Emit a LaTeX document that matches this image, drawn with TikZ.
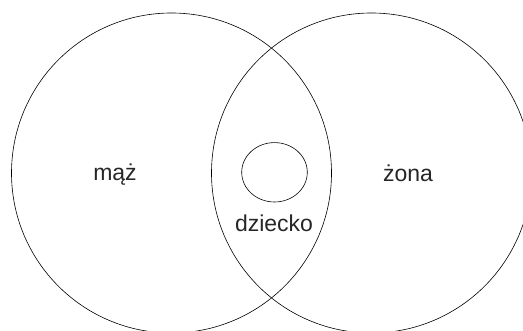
\documentclass[tikz,border=0pt]{standalone}
\usepackage{fontspec}
\setmainfont{Liberation Sans}
\begin{document}
\begin{tikzpicture}[x=1pt,y=1pt,
  ring/.style={draw=black,line width=0.6pt},
  lbl/.style={font=\fontsize{23}{26}\selectfont,inner sep=0pt,text=black!85}]
\useasboundingbox (0,0) rectangle (523,-331);
\begin{scope}
\clip (0,0) rectangle (523,-331);
\node[ring,circle,minimum size=320pt,inner sep=0pt] (maz) at (171.5,-173) {};
\node[ring,circle,minimum size=320pt,inner sep=0pt] (zona) at (371.5,-173) {};
\end{scope}
\draw[ring] (274.5,-172.3) ellipse [x radius=32.8, y radius=29.7];
\coordinate (dz) at (274.5,-172.3);
\node[lbl] (tmaz) at (115,-175) {mąż};
\node[lbl] (tzona) at (408,-173) {żona};
\node[lbl] (tdz) at (274,-223) {dziecko};
\end{tikzpicture}
\end{document}
